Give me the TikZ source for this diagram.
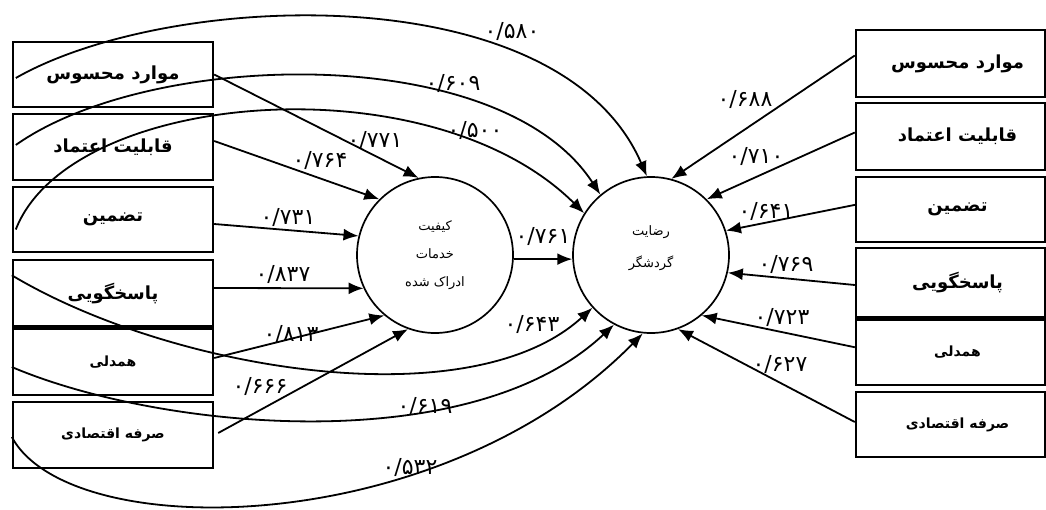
\documentclass[tikz,border=0pt]{standalone}
\usepackage{fontspec}
\usetikzlibrary{arrows.meta}
\TeXXeTstate=1
\newfontfamily\arabicfont[Script=Arabic]{DejaVu Sans}
\begin{document}
\begin{tikzpicture}[x=1pt,y=-1pt,
  facbox/.style={draw, line width=2.4pt, minimum width=200pt, inner sep=0pt,
    font=\arabicfont\bfseries\fontsize{18}{20}\selectfont},
  smallbox/.style={facbox, font=\arabicfont\bfseries\fontsize{14}{16}\selectfont},
  rfacbox/.style={facbox, minimum width=189pt},
  rsmallbox/.style={smallbox, minimum width=189pt},
  latent/.style={draw, circle, line width=1.7pt, minimum size=156pt, inner sep=0pt},
  ctext/.style={align=center, font=\arabicfont\fontsize{13}{28}\selectfont},
  num/.style={font=\arabicfont\fontsize{22}{24}\selectfont, inner sep=0pt},
  conn/.style={line width=1.8pt, -{Latex[length=15pt,width=12pt]}}]
\fill[white] (0,0) rectangle (1046,509);
\useasboundingbox (0,0) rectangle (1046,509);

% left boxes
\node[facbox, minimum height=65pt] (L1) at (113,74.5) {\beginR موارد محسوس\endR};
\node[facbox, minimum height=66pt] (L2) at (113,147) {\beginR قابلیت اعتماد\endR};
\node[facbox, minimum height=65pt] (L3) at (113,219.5) {\beginR تضمین\endR};
\node[facbox, minimum height=66.5pt] (L4) at (113,293.25) {\beginR پاسخگویی\endR};
\node[smallbox, minimum height=66pt] (L5) at (113,362) {\beginR همدلی\endR};
\node[smallbox, minimum height=66pt] (L6) at (113,435) {\beginR صرفه اقتصادی\endR};

% right boxes
\node[rfacbox, minimum height=67pt] (R1) at (950.5,63.5) {\hspace*{14pt}\beginR موارد محسوس\endR};
\node[rfacbox, minimum height=67pt] (R2) at (950.5,136.5) {\hspace*{14pt}\beginR قابلیت اعتماد\endR};
\node[rfacbox, minimum height=65pt] (R3) at (950.5,209.5) {\hspace*{14pt}\beginR تضمین\endR};
\node[rfacbox, minimum height=69pt] (R4) at (950.5,282.5) {\hspace*{14pt}\beginR پاسخگویی\endR};
\node[rsmallbox, minimum height=65.5pt] (R5) at (950.5,352.25) {\hspace*{14pt}\beginR همدلی\endR};
\node[rsmallbox, minimum height=65pt] (R6) at (950.5,424.5) {\hspace*{14pt}\beginR صرفه اقتصادی\endR};

% latent variables
\node[latent, ctext] (C1) at (435,255) {\beginR کیفیت\endR\\\beginR خدمات\endR\\\beginR ادراک شده\endR};
\node[latent] (C2) at (651,255) {};
\node[ctext, font=\arabicfont\fontsize{13}{32}\selectfont] (C2t) at (651,248) {\beginR رضایت\endR\\\beginR گردشگر\endR};

% left boxes -> C1
\draw[conn] (L1.east) -- (C1.102);
\draw[conn] ([yshift=6pt]L2.east) -- (C1.135);
\draw[conn] ([yshift=-4.5pt]L3.east) -- (C1.166);
\draw[conn] ([yshift=5.25pt]L4.east) -- (C1.205);
\draw[conn] ([yshift=4pt]L5.east) -- (C1.230);
\draw[conn] ([xshift=4pt,yshift=2pt]L6.east) -- (C1.250);

% C1 -> C2
\draw[conn] (C1.-3) -- (C2.183);

% left boxes -> C2 (curves)
\draw[conn] ([xshift=4pt,yshift=-3.5pt]L1.west) .. controls (170,-10) and (560,-25) .. (C2.93);
\draw[conn] ([xshift=4pt,yshift=2pt]L2.west) .. controls (150,50) and (500,40) .. (C2.130);
\draw[conn] ([xshift=4pt,yshift=-10pt]L3.west) .. controls (70,90) and (430,60) .. (C2.148);
\draw[conn] ([yshift=18pt]L4.west) .. controls (170,370) and (470,420) .. (C2.222);
\draw[conn] ([yshift=-5pt]L5.west) .. controls (160,430) and (470,460) .. (C2.242);
\draw[conn] ([yshift=-2pt]L6.west) .. controls (70,545) and (440,540) .. (C2.264);

% right boxes -> C2
\draw[conn] ([yshift=8pt]R1.west) -- (C2.75);
\draw[conn] ([yshift=4pt]R2.west) -- (C2.45);
\draw[conn] ([xshift=2pt,yshift=5pt]R3.west) -- (C2.18);
\draw[conn] ([yshift=-2.5pt]R4.west) -- (C2.-13);
\draw[conn] ([yshift=5pt]R5.west) -- (C2.-50);
\draw[conn] ([yshift=2.5pt]R6.west) -- (C2.-70);

% coefficients
\node[num] (n580) at (512,31) {۰/۵۸۰};
\node[num] (n609) at (453,83) {۰/۶۰۹};
\node[num] (n500) at (475,130) {۰/۵۰۰};
\node[num] (n771) at (375,140) {۰/۷۷۱};
\node[num] (n764) at (320,160) {۰/۷۶۴};
\node[num] (n731) at (288,217) {۰/۷۳۱};
\node[num] (n837) at (283,274) {۰/۸۳۷};
\node[num] (n813) at (291,334) {۰/۸۱۳};
\node[num] (n666) at (260,386) {۰/۶۶۶};
\node[num] (n761) at (543,236) {۰/۷۶۱};
\node[num] (n643) at (532,324) {۰/۶۴۳};
\node[num] (n619) at (425,406) {۰/۶۱۹};
\node[num] (n532) at (410,467) {۰/۵۳۲};
\node[num] (n688) at (745,99) {۰/۶۸۸};
\node[num] (n710) at (756,156) {۰/۷۱۰};
\node[num] (n641) at (766,211) {۰/۶۴۱};
\node[num] (n769) at (786,264) {۰/۷۶۹};
\node[num] (n723) at (782,317) {۰/۷۲۳};
\node[num] (n627) at (780,364) {۰/۶۲۷};
\end{tikzpicture}
\end{document}
